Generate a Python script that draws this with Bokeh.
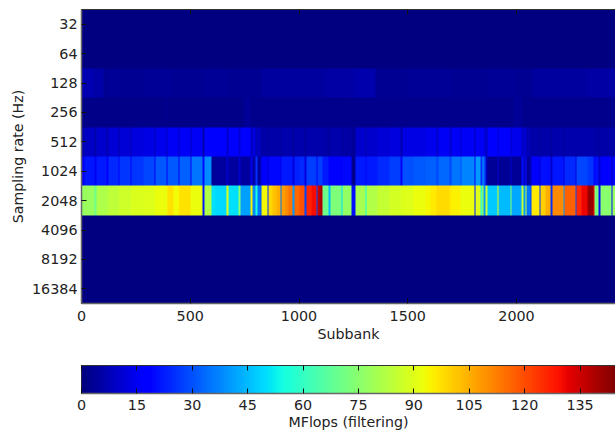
from bokeh.plotting import figure
from bokeh.layouts import column
from bokeh.models import FixedTicker, LinearAxis, LinearColorMapper, Range1d
from bokeh.embed import file_html
from bokeh.resources import INLINE
import numpy as np

rates = ["32", "64", "128", "256", "512", "1024", "2048", "4096", "8192", "16384"]
x_ticks = [0, 500, 1000, 1500, 2000]
cbar_ticks = [0, 15, 30, 45, 60, 75, 90, 105, 120, 135]

band_edges = [
    0, 8, 16, 62, 70, 116, 123, 169, 174, 223,
    231, 284, 334, 341, 389, 395, 421, 445, 450, 499,
    507, 558, 565, 599, 614, 668, 675, 724, 730, 778,
    786, 801, 809, 821, 829, 857, 862, 880, 897, 913,
    921, 937, 953, 970, 978, 1000, 1024, 1033, 1056, 1079,
    1083, 1096, 1110, 1135, 1143, 1194, 1200, 1243, 1258, 1304,
    1309, 1361, 1415, 1468, 1476, 1526, 1580, 1603, 1634, 1641,
    1691, 1700, 1741, 1748, 1806, 1811, 1836, 1842, 1848, 1859,
    1867, 1913, 1919, 1971, 1979, 2025, 2032, 2040, 2048, 2063,
    2071, 2105, 2112, 2135, 2158, 2167, 2216, 2220, 2270, 2275,
    2300, 2324, 2355, 2359, 2377, 2385, 2436, 2442, 2455,
]
mflops_2048 = [
    76, 78, 78, 70, 81, 82, 84, 85, 87, 88,
    89, 90, 91, 92, 93, 97, 93, 95, 97, 92,
    92, 22, 82, 50, 49, 90, 50, 75, 41, 95,
    38, 55, 35, 30, 94, 25, 99, 102, 105, 35,
    108, 111, 114, 40, 116, 119, 28, 126, 130, 30,
    135, 139, 70, 45, 73, 50, 77, 20, 80, 55,
    82, 85, 88, 89, 90, 92, 94, 96, 98, 98,
    96, 95, 92, 92, 22, 90, 60, 85, 40, 85,
    47, 90, 45, 75, 42, 85, 40, 85, 35, 28,
    96, 25, 100, 105, 25, 111, 40, 117, 30, 126,
    131, 142, 130, 72, 20, 75, 20, 78,
]
mflops_1024 = [
    17, 14, 21, 15, 22, 16, 24, 16, 26, 17,
    26, 28, 17, 31, 16, 31, 31, 17, 32, 16,
    35, 20, 38, 3, 4, 10, 4, 10, 4, 14,
    5, 25, 4, 10, 18, 10, 19, 19, 19, 14,
    22, 22, 22, 12, 23, 24, 12, 27, 27, 15,
    27, 27, 22, 17, 18, 14, 19, 2, 22, 15,
    22, 24, 27, 17, 30, 31, 32, 32, 28, 33,
    28, 35, 30, 37, 18, 40, 25, 40, 30, 8,
    3, 10, 3, 10, 3, 20, 8, 20, 4, 8,
    18, 10, 20, 20, 10, 21, 12, 24, 12, 28,
    28, 26, 16, 20, 10, 18, 8, 18,
]
mflops_512 = [
    8, 5, 9, 6, 10, 6, 11, 6, 11, 7,
    12, 13, 7, 14, 8, 15, 15, 9, 15, 8,
    15, 6, 16, 16, 17, 10, 17, 11, 16, 8,
    12, 7, 9, 5, 5.5, 4.5, 5.5, 5.5, 5.5, 4.5,
    6, 6, 6, 4.5, 6, 6, 4.5, 6, 6, 4.5,
    6, 6, 5.5, 4.5, 6, 4.5, 5, 3, 10, 6,
    10, 11, 12, 6, 13, 13, 14, 14, 10, 15,
    10, 15, 10, 15, 7, 15, 15, 15, 13, 8,
    17, 10, 16, 9, 14, 9, 11, 8, 7, 5.5,
    5.5, 4.5, 5.5, 5.5, 4.5, 6, 4.5, 6, 4.5, 6,
    6, 6, 5, 5.5, 4.5, 5.5, 4.5, 5.5,
]
edges_128 = [0, 57, 99, 130, 170, 290, 410, 500, 560, 680, 740, 829, 1000, 1120,
             1235, 1258, 1350, 1500, 1700, 1860, 2000, 2070, 2320, 2455]
mflops_128 = [6.5, 5.5, 2.5, 3, 2.5, 3, 2.8, 2.5, 3, 2.5, 2.8, 4, 4.5,
              5, 5.5, 6, 2.5, 3, 2.8, 3, 2.5, 4.5, 5]
edges_256 = [0, 375, 395, 743, 775, 1985, 2026, 2455]
mflops_256 = [1.5, 2, 1.5, 3, 1.8, 3, 1.7]
edges_flat = [0, 2455]
mflops_32 = [0.5]
mflops_64 = [0.5]
mflops_4096 = [0]
mflops_8192 = [0]
mflops_16384 = [0]

rows = [
    (edges_flat, mflops_32), (edges_flat, mflops_64), (edges_128, mflops_128),
    (edges_256, mflops_256), (band_edges, mflops_512), (band_edges, mflops_1024),
    (band_edges, mflops_2048), (edges_flat, mflops_4096), (edges_flat, mflops_8192),
    (edges_flat, mflops_16384),
]

VMAX = 145.0
X_MAX = 2455
C_MAX = 144.6
FONT = "DejaVu Sans"
TXT = "#222222"
FS_TICK = "14.3px"
FS_LABEL = "14.2px"


def jet(t):
    def seg(pts):
        return float(np.interp(t, [a for a, _ in pts], [b for _, b in pts]))
    r = seg([(0, 0), (0.35, 0), (0.66, 1), (0.89, 1), (1, 0.5)])
    g = seg([(0, 0), (0.125, 0), (0.375, 1), (0.64, 1), (0.91, 0), (1, 0)])
    b = seg([(0, 0.5), (0.11, 1), (0.34, 1), (0.65, 0), (1, 0)])
    return "#%02x%02x%02x" % (round(r * 255), round(g * 255), round(b * 255))


palette = [jet(i / 255) for i in range(256)]
mapper = LinearColorMapper(palette=palette, low=0, high=VMAX)


def style_axis(ax):
    ax.major_label_text_font = FONT
    ax.major_label_text_font_size = FS_TICK
    ax.major_label_text_color = TXT
    ax.axis_label_text_font = FONT
    ax.axis_label_text_font_size = FS_LABEL
    ax.axis_label_text_font_style = "normal"
    ax.axis_label_text_color = TXT
    ax.major_tick_in = 5
    ax.major_tick_out = 0
    ax.minor_tick_in = 0
    ax.minor_tick_out = 0
    ax.major_tick_line_color = "#111111"
    ax.axis_line_color = "#666666"
    ax.axis_line_width = 1.5


def top_ticks(fig, ticks):
    ax = LinearAxis(ticker=FixedTicker(ticks=ticks))
    style_axis(ax)
    ax.major_label_text_font_size = "0px"
    ax.major_label_standoff = 0
    ax.major_label_overrides = {t: "" for t in ticks}
    ax.axis_line_color = "#333333"
    ax.axis_line_width = 1
    fig.add_layout(ax, "above")


def title_axis(fig, text, bounds, standoff):
    ax = LinearAxis(ticker=FixedTicker(ticks=[]), bounds=bounds, axis_label=text)
    style_axis(ax)
    ax.axis_line_color = None
    ax.major_tick_line_color = None
    ax.major_tick_in = 0
    ax.major_label_standoff = 0
    ax.axis_label_standoff = standoff
    fig.add_layout(ax, "below")


grid = np.zeros((len(rows), X_MAX))
for i, (edges, values) in enumerate(rows):
    for j, v in enumerate(values):
        grid[i, edges[j]:edges[j + 1]] = v

p = figure(width=615, height=353, frame_width=534, frame_height=294,
           x_range=Range1d(0, X_MAX), y_range=Range1d(9.5, -0.5),
           output_backend="svg", toolbar_location=None,
           min_border_left=81, min_border_right=0, min_border_top=9, min_border_bottom=50,
           background_fill_color="white", border_fill_color="white")
p.grid.visible = False
p.outline_line_color = "#333333"
p.image(image=[grid], x=0, y=-0.5, dw=X_MAX, dh=len(rows), color_mapper=mapper)
p.xaxis.ticker = FixedTicker(ticks=x_ticks)
p.yaxis.ticker = FixedTicker(ticks=list(range(len(rates))))
p.yaxis.major_label_overrides = {i: r for i, r in enumerate(rates)}
p.yaxis.axis_label = "Sampling rate (Hz)"
style_axis(p.xaxis[0])
style_axis(p.yaxis[0])
p.xaxis.major_label_standoff = 7
p.yaxis.major_label_standoff = 4
p.yaxis.axis_label_standoff = 3
top_ticks(p, x_ticks)
title_axis(p, "Subbank", (25, X_MAX), 2)

cb = figure(width=615, height=77, frame_width=534, frame_height=28,
            x_range=Range1d(0, C_MAX), y_range=Range1d(0, 1),
            output_backend="svg", toolbar_location=None,
            min_border_left=81, min_border_right=0, min_border_top=12, min_border_bottom=37,
            background_fill_color="white", border_fill_color="white")
cb.grid.visible = False
cb.yaxis.visible = False
cb.outline_line_color = "#333333"
gradient = np.linspace(0, C_MAX, 512).reshape(1, -1)
cb.image(image=[gradient], x=0, y=0, dw=C_MAX, dh=1, color_mapper=mapper)
cb.xaxis.ticker = FixedTicker(ticks=cbar_ticks)
style_axis(cb.xaxis[0])
cb.xaxis.major_label_standoff = 6
top_ticks(cb, cbar_ticks)
title_axis(cb, "MFlops (filtering)", (2.4, C_MAX), 1)

layout = column(p, cb, spacing=0)
open("out.html", "w").write(file_html(layout, INLINE))
